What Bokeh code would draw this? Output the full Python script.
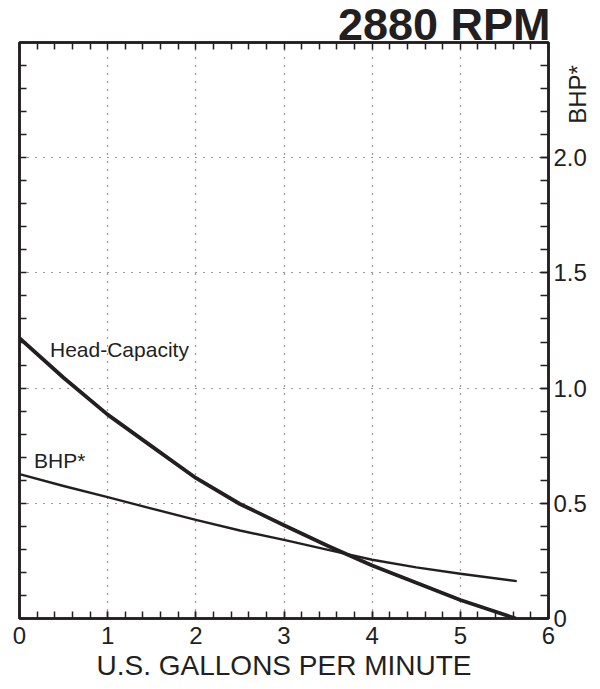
from bokeh.plotting import figure
from bokeh.models import LinearAxis, FixedTicker, Label, Range1d
from bokeh.embed import file_html
from bokeh.resources import INLINE
import math

# ---- data ----
head_gpm = [0, 0.5, 1, 1.5, 2, 2.5, 3, 3.5, 4, 4.5, 5, 5.63]
head_val = [1.217, 1.045, 0.885, 0.747, 0.61, 0.497, 0.405, 0.315, 0.23, 0.155, 0.08, 0.0]
bhp_gpm = [0, 0.5, 1, 1.5, 2, 2.5, 3, 3.5, 4, 4.5, 5, 5.64]
bhp_val = [0.627, 0.575, 0.527, 0.477, 0.428, 0.382, 0.341, 0.298, 0.255, 0.222, 0.194, 0.162]
x_major = [0, 1, 2, 3, 4, 5, 6]
x_minor = [round(i * 0.2, 1) for i in range(31)]
y_major = [0, 0.5, 1.0, 1.5, 2.0]
y_major_labels = ["0", "0.5", "1.0", "1.5", "2.0"]
y_minor = [round(i * 0.1, 1) for i in range(26)]
title_text = "2880 RPM"
x_title = "U.S. GALLONS PER MINUTE"
y_title = "BHP*"

INK = "#231f20"
FONT = "Liberation Sans"

p = figure(frame_width=529, frame_height=576,
           x_range=Range1d(0, 6), y_range=Range1d(0, 2.5),
           y_axis_location="right",
           output_backend="svg", toolbar_location=None,
           min_border_left=19, min_border_top=42,
           min_border_right=48, min_border_bottom=66)
p.background_fill_color = "white"
p.border_fill_color = "white"
p.outline_line_color = INK
p.outline_line_width = 2.5

# title (right aligned, tucked close to the frame)
p.title.text = title_text
p.title.align = "right"
p.title.vertical_align = "middle"
p.title.text_font = FONT
p.title.text_font_size = "45px"
p.title.text_font_style = "bold"
p.title.text_color = INK
p.title.standoff = -17
p.title.offset = -2

# bottom axis
xa = p.xaxis[0]
xa.ticker = FixedTicker(ticks=x_major, minor_ticks=x_minor)
xa.major_tick_in = 7
xa.major_tick_out = 0
xa.minor_tick_in = 7
xa.minor_tick_out = 0
xa.major_tick_line_color = INK
xa.minor_tick_line_color = INK
xa.major_tick_line_width = 1.5
xa.minor_tick_line_width = 1.5
xa.axis_line_color = INK
xa.axis_line_width = 2.5
xa.major_label_text_font = FONT
xa.major_label_text_font_size = "24px"
xa.major_label_text_color = INK
xa.major_label_standoff = 8
xa.axis_label = x_title
xa.axis_label_text_font = FONT
xa.axis_label_text_font_size = "28px"
xa.axis_label_text_font_style = "normal"
xa.axis_label_text_color = INK
xa.axis_label_standoff = 3

# right axis
ya = p.yaxis[0]
ya.ticker = FixedTicker(ticks=y_major, minor_ticks=y_minor)
ya.major_label_overrides = {v: s for v, s in zip(y_major, y_major_labels)}
ya.major_tick_in = 8
ya.major_tick_out = 0
ya.minor_tick_in = 8
ya.minor_tick_out = 0
ya.major_tick_line_color = INK
ya.minor_tick_line_color = INK
ya.major_tick_line_width = 1.5
ya.minor_tick_line_width = 1.5
ya.axis_line_color = INK
ya.axis_line_width = 2.5
ya.major_label_text_font = FONT
ya.major_label_text_font_size = "24px"
ya.major_label_text_color = INK
ya.major_label_standoff = 5
ya.major_label_text_baseline = "middle"

# second right axis that only carries the "BHP*" label near the top
ra = LinearAxis(ticker=FixedTicker(ticks=[]))
ra.axis_line_color = None
ra.major_tick_line_color = None
ra.minor_tick_line_color = None
ra.major_label_standoff = 0
ra.axis_label = "\u00a0" * 31 + y_title
ra.axis_label_text_font = FONT
ra.axis_label_text_font_size = "24px"
ra.axis_label_text_font_style = "normal"
ra.axis_label_text_color = INK
ra.axis_label_orientation = math.pi / 2
ra.axis_label_standoff = -12
p.add_layout(ra, "right")

# left axis: ticks only
la = LinearAxis(ticker=FixedTicker(ticks=[], minor_ticks=y_minor))
la.minor_tick_in = 7
la.minor_tick_out = 0
la.minor_tick_line_color = INK
la.minor_tick_line_width = 1.5
la.axis_line_color = INK
la.axis_line_width = 2.5
la.major_label_standoff = 0
p.add_layout(la, "left")

# top axis: ticks only
ta = LinearAxis(ticker=FixedTicker(ticks=[], minor_ticks=x_minor))
ta.minor_tick_in = 7
ta.minor_tick_out = 0
ta.minor_tick_line_color = INK
ta.minor_tick_line_width = 1.5
ta.axis_line_color = INK
ta.axis_line_width = 2.5
ta.major_label_standoff = 0
p.add_layout(ta, "above")

# grids
p.xgrid.ticker = FixedTicker(ticks=x_major[1:-1])
p.ygrid.ticker = FixedTicker(ticks=y_major[1:])
for g in (p.xgrid, p.ygrid):
    g.grid_line_color = "#333333"
    g.grid_line_dash = "1 7"
    g.grid_line_width = 1.2

# curves
p.line(head_gpm, head_val, line_color=INK, line_width=3.8, line_join="round")
p.line(bhp_gpm, bhp_val, line_color=INK, line_width=2.4, line_join="round")

# in-plot labels
p.add_layout(Label(x=0.346, y=1.167, text="Head-Capacity", text_align="left",
                   text_baseline="middle", text_font=FONT, text_font_size="21px",
                   text_color=INK))
p.add_layout(Label(x=0.164, y=0.684, text="BHP*", text_align="left",
                   text_baseline="middle", text_font=FONT, text_font_size="21px",
                   text_color=INK))

open("out.html", "w").write(file_html(p, INLINE))
